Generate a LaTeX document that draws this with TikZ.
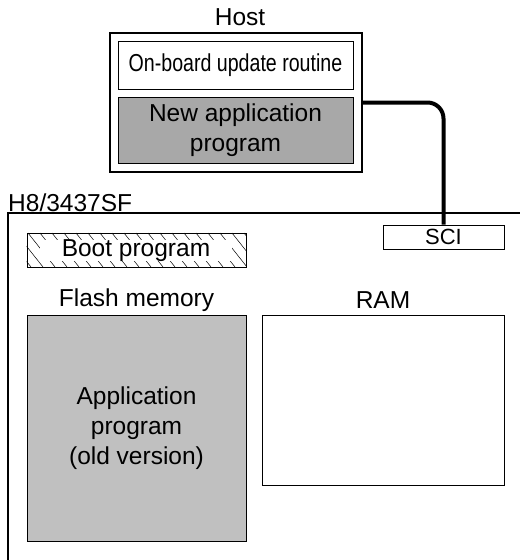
\documentclass[tikz,border=0pt]{standalone}
\usepackage{fontspec}
\setmainfont{Liberation Sans}
\usepackage{tikz}
\usetikzlibrary{positioning}
\definecolor{newgray}{HTML}{A8A8A8}
\definecolor{oldgray}{HTML}{C0C0C0}

\begin{document}
\begin{tikzpicture}[x=1pt, y=-1pt,
  every node/.style={font=\fontsize{24.5}{30}\selectfont, align=center},
  box/.style={draw, line width=0.8pt, inner sep=0pt},
  label/.style={inner sep=0pt}]
\useasboundingbox (0,0) rectangle (520,560);
\node[label] (hostlbl) at (240,17) {Host};
\node[box, line width=1.6pt, minimum width=252pt, minimum height=139pt] (host) at (236,102.5) {};
\node[box, minimum width=235pt, minimum height=48pt] (upd) at (235.5,65) {\scalebox{0.8}[1]{On-board update routine}};
\node[box, fill=newgray, minimum width=235pt, minimum height=66pt] (newapp) at (235.5,130) {New application\\program};
\node[label, anchor=west] (chiplbl) at (8,203) {H8/3437SF};
\draw[line width=1.6pt] (8,560) -- (8,213) -- (520,213);
\node[box, fill=white, minimum width=121pt, minimum height=24pt, font=\fontsize{22}{26}\selectfont] (sci) at (443.5,237) {SCI};
\draw[line width=4pt, rounded corners=16pt] (host.east) -| (sci.north);
\node[box, minimum width=219pt, minimum height=34pt] (boot) at (136.5,250) {};
\begin{scope}
\clip (boot.south west) rectangle (boot.north east);
\foreach \x in {-8,4,...,250} \draw[line width=0.5pt] (\x,233) -- ++(27,34);
\end{scope}
\node[box] at (boot) [minimum width=219pt, minimum height=34pt] {};
\node[label, fill=white, minimum width=192pt, minimum height=16pt] (bootlbl) at (136,250.5) {Boot program};
\node[label] (flashlbl) at (136.5,300) {Flash memory};
\node[label] (ramlbl) at (383,300) {RAM};
\node[box, fill=oldgray, minimum width=219pt, minimum height=226pt] (flash) at (136.5,428) {Application\\program\\(old version)};
\node[box, minimum width=242pt, minimum height=170pt] (ram) at (383,400) {};
\end{tikzpicture}
\end{document}
